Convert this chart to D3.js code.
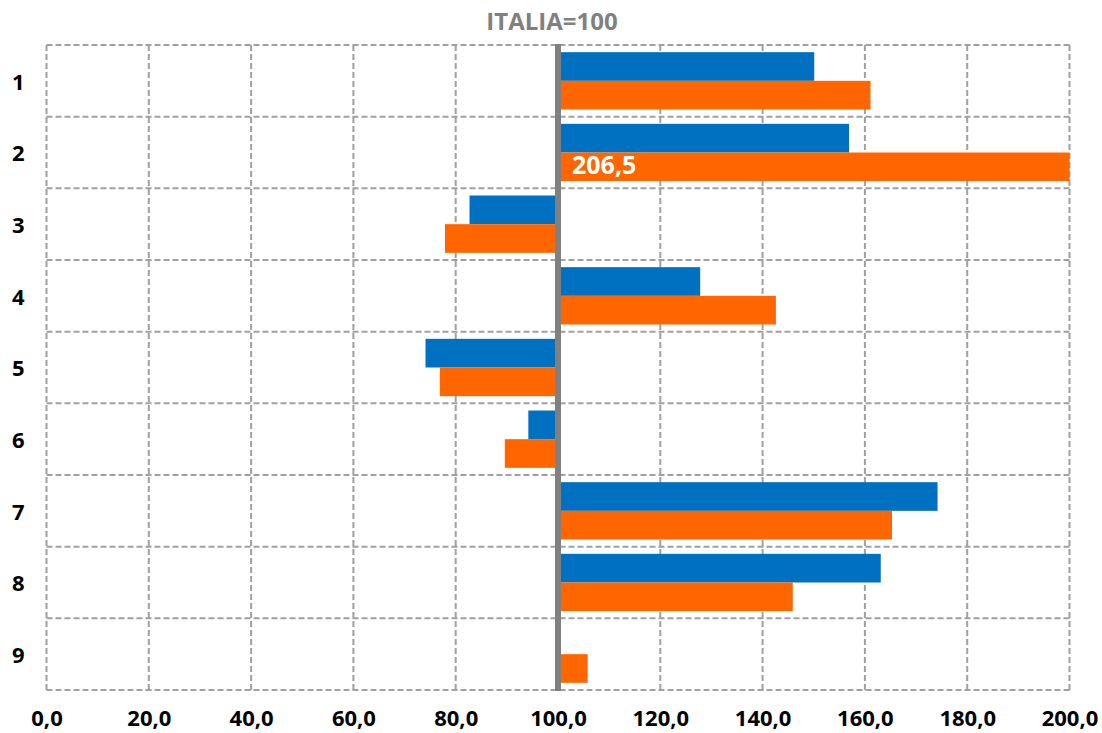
<!DOCTYPE html>
<html><head><meta charset="utf-8">
<script src="https://cdn.jsdelivr.net/npm/d3@7"></script>
<style>body{margin:0;background:#fff}svg{display:block}</style>
</head><body><svg id="c" width="1102" height="733"></svg>
<script>
const categories = ["1","2","3","4","5","6","7","8","9"];
const seriesBlue = [150.1, 156.9, 82.7, 127.8, 74.1, 94.2, 174.2, 163.1, null];
const seriesOrange = [161.1, 206.5, 77.9, 142.6, 76.9, 89.6, 165.3, 145.9, 105.8];
const xTicks = [0,20,40,60,80,100,120,140,160,180,200];
const title = "ITALIA=100";
const baseline = 100;

const svg = d3.select("#c");
const m = {l:46.5, r:1069.5, t:45, b:690};
const x = d3.scaleLinear().domain([0,200]).range([m.l, m.r]);
const y = d3.scaleBand().domain(categories).range([m.t, m.b]).padding(0);
const bw = y.bandwidth();
const fmt = v => d3.format(".1f")(v).replace(".", ",");
const gridColor = "#a0a0a0";

// grid
const g = svg.append("g");
g.selectAll("line.v").data(xTicks).join("line")
  .attr("x1", d=>x(d)).attr("x2", d=>x(d)).attr("y1", m.t).attr("y2", m.b)
  .attr("stroke", gridColor).attr("stroke-width", 2).attr("stroke-dasharray", "6,3");
const hs = categories.map(c=>y(c)).concat([m.b]);
g.selectAll("line.h").data(hs).join("line")
  .attr("x1", m.l).attr("x2", m.r).attr("y1", d=>d).attr("y2", d=>d)
  .attr("stroke", gridColor).attr("stroke-width", 2).attr("stroke-dasharray", "6,3");

const clamp = v => Math.min(200, v);
// blue bars
svg.append("g").selectAll("rect").data(categories.map((c,i)=>({c, v:seriesBlue[i]})).filter(d=>d.v!=null))
  .join("rect")
  .attr("x", d=>Math.min(x(baseline), x(clamp(d.v))))
  .attr("width", d=>Math.abs(x(clamp(d.v))-x(baseline)))
  .attr("y", d=>y(d.c)+bw*0.1).attr("height", bw*0.4)
  .attr("fill", "#0070C0");
// orange bars
svg.append("g").selectAll("rect").data(categories.map((c,i)=>({c, v:seriesOrange[i]})).filter(d=>d.v!=null))
  .join("rect")
  .attr("x", d=>Math.min(x(baseline), x(clamp(d.v))))
  .attr("width", d=>Math.abs(x(clamp(d.v))-x(baseline)))
  .attr("y", d=>y(d.c)+bw*0.5).attr("height", bw*0.4)
  .attr("fill", "#FF6600");

// baseline
svg.append("line").attr("x1", x(baseline)).attr("x2", x(baseline))
  .attr("y1", m.t-1).attr("y2", m.b+1).attr("stroke", "#808080").attr("stroke-width", 6);

// overflow label
seriesOrange.forEach((v,i)=>{
  if (v > 200) {
    svg.append("text").attr("x", x(baseline)+14).attr("y", y(categories[i])+bw*0.7)
      .attr("dominant-baseline","middle")
      .attr("font-family","Open Sans, sans-serif").attr("font-weight","bold").attr("font-size",25)
      .attr("fill","#fff").text(fmt(v));
  }
});

// axes labels
svg.append("g").attr("transform", `translate(0,${m.b})`)
  .call(d3.axisBottom(x).tickValues(xTicks).tickFormat(fmt).tickSize(0).tickPadding(20))
  .call(s=>s.select(".domain").remove())
  .selectAll("text").attr("font-family","Open Sans, sans-serif").attr("font-weight","bold")
  .attr("font-size",22).attr("fill","#000");
svg.append("g").attr("transform", `translate(${m.l},0)`)
  .call(d3.axisLeft(y).tickSize(0).tickPadding(22))
  .call(s=>s.select(".domain").remove())
  .selectAll("text").attr("font-family","Open Sans, sans-serif").attr("font-weight","bold")
  .attr("font-size",22).attr("fill","#000").attr("dy","0.4em");

// title
svg.append("text").attr("x", 552).attr("y", 24).attr("text-anchor","middle")
  .attr("dominant-baseline","middle")
  .attr("font-family","Open Sans, sans-serif").attr("font-weight","bold").attr("font-size",24)
  .attr("fill","#808080").text(title);
</script></body></html>
